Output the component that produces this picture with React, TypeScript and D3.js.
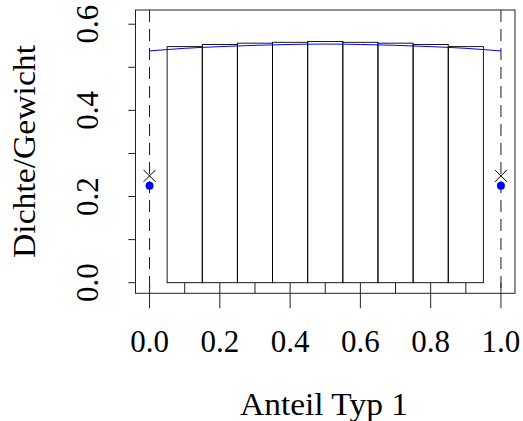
import React from "react";
import * as d3 from "d3";

// histogram of proportions with density curve and point masses at 0 and 1
const binStarts = [0.05, 0.15, 0.25, 0.35, 0.45, 0.55, 0.65, 0.75, 0.85];
const binHeights = [0.548, 0.553, 0.556, 0.558, 0.56, 0.558, 0.556, 0.553, 0.548];
const binWidth = 0.1;

const curveX = [0, 0.1, 0.2, 0.3, 0.4, 0.5, 0.6, 0.7, 0.8, 0.9, 1.0];
const curveY = [0.538, 0.544, 0.548, 0.551, 0.553, 0.554, 0.553, 0.551, 0.548, 0.544, 0.538];

const massX = [0, 1];
const massWeight = [0.248, 0.248]; // crosses
const massDensity = [0.225, 0.225]; // blue dots

const xTicks = [0, 0.1, 0.2, 0.3, 0.4, 0.5, 0.6, 0.7, 0.8, 0.9, 1.0];
const xLabels = ["0.0", "0.2", "0.4", "0.6", "0.8", "1.0"];
const yTicks = [0, 0.1, 0.2, 0.3, 0.4, 0.5, 0.6];
const yLabels = ["0.0", "0.2", "0.4", "0.6"];

const W = 523, H = 421;
const box = { left: 135.5, right: 515, top: 10, bottom: 293.3 };
const font = "'Liberation Serif', serif";

export default function App() {
  const x = d3.scaleLinear().domain([-0.04, 1.04]).range([box.left, box.right]);
  const y = d3.scaleLinear().domain([-0.0246, 0.633]).range([box.bottom, box.top]);

  const line = d3.line<number>()
    .x((d, i) => x(curveX[i]))
    .y((d) => y(d))
    .curve(d3.curveNatural);

  const cs = 6;

  return (
    <svg width={W} height={H} style={{ position: "absolute", left: 0, top: 0, background: "#fff" }}>
      {/* bars */}
      {binStarts.map((b, i) => (
        <rect key={"b" + i}
          x={x(b)} y={y(binHeights[i])}
          width={x(b + binWidth) - x(b)} height={y(0) - y(binHeights[i])}
          fill="none" stroke="#000" strokeWidth={0.9} />
      ))}

      {/* dashed lines at 0 and 1 */}
      {massX.map((m, i) => (
        <line key={"d" + i} x1={x(m)} x2={x(m)} y1={box.top} y2={box.bottom}
          stroke="#000" strokeWidth={0.9} strokeDasharray="12,7" />
      ))}

      {/* density curve */}
      <path d={line(curveY) || ""} fill="none" stroke="#0000ff" strokeWidth={1} />

      {/* point masses */}
      {massX.map((m, i) => (
        <g key={"m" + i}>
          <path d={`M${x(m) - cs},${y(massWeight[i]) - cs}L${x(m) + cs},${y(massWeight[i]) + cs}M${x(m) - cs},${y(massWeight[i]) + cs}L${x(m) + cs},${y(massWeight[i]) - cs}`}
            stroke="#000" strokeWidth={1} />
          <circle cx={x(m)} cy={y(massDensity[i])} r={4} fill="#0000ff" />
        </g>
      ))}

      {/* box */}
      <rect x={box.left} y={box.top} width={box.right - box.left} height={box.bottom - box.top}
        fill="none" stroke="#222" strokeWidth={1} />

      {/* x axis ticks */}
      {xTicks.map((t, i) => (
        <line key={"xt" + i} x1={x(t)} x2={x(t)}
          y1={y(0)} y2={i % 2 === 0 ? 308.3 : box.bottom}
          stroke="#222" strokeWidth={1} />
      ))}
      {xLabels.map((l) => (
        <text key={"xl" + l} x={x(+l)} y={351.7} textAnchor="middle"
          fontFamily={font} fontSize={31}>{l}</text>
      ))}
      <text x={324} y={415} textAnchor="middle" textLength={168} lengthAdjust="spacingAndGlyphs"
        fontFamily={font} fontSize={31}>Anteil Typ 1</text>

      {/* y axis ticks */}
      {yTicks.map((t, i) => (
        <line key={"yt" + i} x1={128.3} x2={box.left} y1={y(t)} y2={y(t)}
          stroke="#222" strokeWidth={1} />
      ))}
      {yLabels.map((l) => (
        <text key={"yl" + l} transform={`translate(98,${y(+l)}) rotate(-90)`}
          textAnchor="middle" fontFamily={font} fontSize={31}>{l}</text>
      ))}
      <text transform={`translate(35,151.5) rotate(-90)`} textLength={213} lengthAdjust="spacingAndGlyphs"
        textAnchor="middle" fontFamily={font} fontSize={31}>Dichte/Gewicht</text>
    </svg>
  );
}
